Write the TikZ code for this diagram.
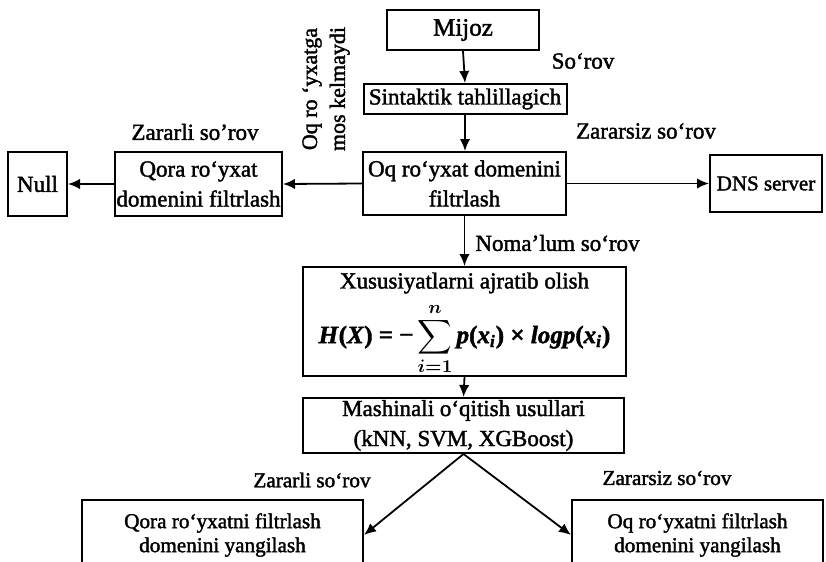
\documentclass[tikz,border=0pt]{standalone}
\usepackage{fontspec}
\setmainfont{Liberation Serif}[FakeBold=1.7]
\usepackage{amsmath}
\usepackage{bm}
\usetikzlibrary{arrows.meta}
\begin{document}
\begin{tikzpicture}[x=0.5pt,y=-0.5pt,
  box/.style={draw,line width=1pt,inner sep=0pt,align=center,font=\fontsize{11.5}{15}\selectfont},
  lowbox/.style={draw,line width=1pt,inner sep=0pt,align=center,font=\fontsize{10.6}{12}\selectfont},
  lbl/.style={inner sep=0pt,font=\fontsize{11.5}{14}\selectfont},
  lowlbl/.style={inner sep=0pt,font=\fontsize{10.6}{12}\selectfont},
  mathlbl/.style={inner sep=0pt,font=\fontsize{12.5}{14}\selectfont},
  arr/.style={line width=0.9pt,-{Latex[length=6pt,width=5.2pt]}}]
\useasboundingbox (0,0) rectangle (826,562);
\clip (0,0) rectangle (826,562);
% boxes
\node[box,minimum width=76pt,minimum height=20pt,font=\fontsize{12.5}{15}\selectfont] (mijoz) at (463,30) {Mijoz};
\node[box,minimum width=101.5pt,minimum height=15pt] (sint) at (465,99) {Sintaktik tahlillagich};
\node[box,minimum width=101.5pt,minimum height=31.5pt] (oq) at (464.5,183.5) {Oq ro‘yxat domenini\\filtrlash};
\node[box,minimum width=83.5pt,minimum height=32pt] (qora) at (198.5,184) {Qora ro‘yxat\\domenini filtrlash};
\node[box,minimum width=29.5pt,minimum height=32pt] (null) at (37.5,184) {Null};
\node[box,minimum width=56pt,minimum height=28.5pt,font=\fontsize{10.5}{13}\selectfont] (dns) at (766,183.5) {DNS server};
\node[box,minimum width=161.5pt,minimum height=54.5pt] (xus) at (464.5,321.5) {};
\node[lbl] (xustitle) at (464.5,283) {Xususiyatlarni ajratib olish};
\node[mathlbl] (entropy) at (464.5,339) {\bfseries\itshape H\/\upshape(\itshape X\/\upshape) = −\,\(\displaystyle\sum_{\bm{i=1}}^{\bm{n}}\)\,\itshape p\upshape(\itshape x\textsubscript{i}\/\upshape) × \itshape logp\upshape(\itshape x\textsubscript{i}\/\upshape)};
\node[box,minimum width=160.5pt,minimum height=27.5pt] (mash) at (463.5,425.5) {Mashinali o‘qitish usullari\\(kNN, SVM, XGBoost)};
\node[lowbox,minimum width=140.5pt,minimum height=35pt] (bl) at (222.5,535) {Qora ro‘yxatni filtrlash\\domenini yangilash};
\node[lowbox,minimum width=125.5pt,minimum height=35pt] (br) at (697.5,535) {Oq ro‘yxatni filtrlash\\domenini yangilash};
% labels
\node[lbl] (l1) at (583,61) {So‘rov};
\node[lbl,rotate=90,align=center,font=\fontsize{11}{14}\selectfont] (l2) at (326,89) {Oq ro ‘yxatga\\mos kelmaydi};
\node[lbl] (l3) at (195,132) {Zararli so’rov};
\node[lbl] (l4) at (646,131) {Zararsiz so‘rov};
\node[lbl,anchor=west] (l5) at (475,243) {Noma’lum so‘rov};
\node[lowlbl] (l6) at (312,480) {Zararli so‘rov};
\node[lowlbl] (l7) at (667,478) {Zararsiz so‘rov};
% connectors
\draw[arr] (mijoz.south) -- (sint.north);
\draw[arr] (sint.south) -- (sint.south |- oq.north);
\draw[arr] (oq.west) -- (qora.east);
\draw[arr] (qora.west) -- (null.east);
\draw[arr] (oq.east) -- (dns.west);
\draw[arr] (oq.south) -- (oq.south |- xus.north);
\draw[arr] (xus.south) -- (mash.north);
\draw[arr] (mash.south) -- (bl.east);
\draw[arr] (mash.south) -- (br.west);
\end{tikzpicture}
\end{document}
